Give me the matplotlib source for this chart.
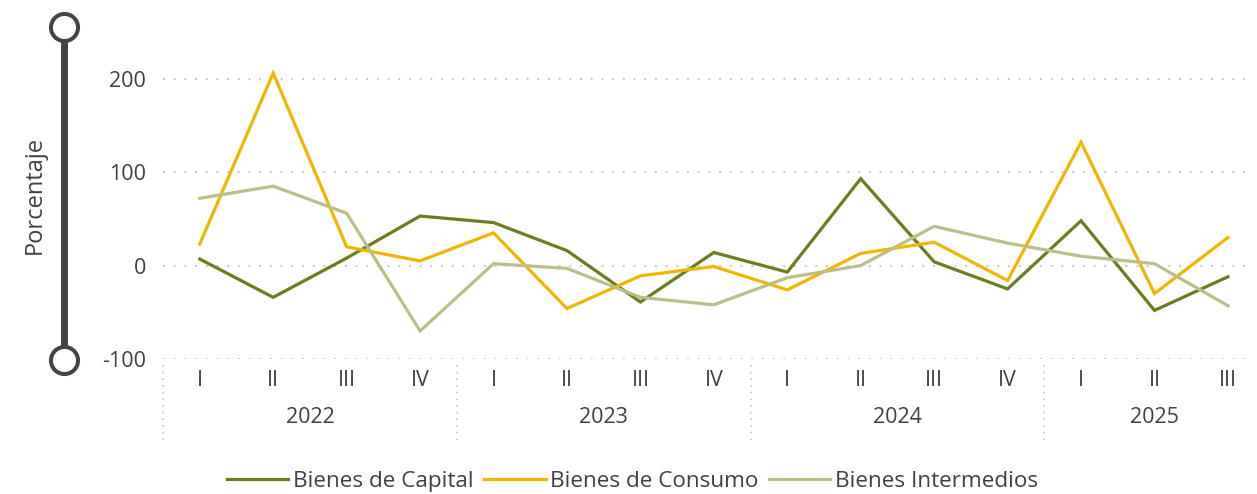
import matplotlib.pyplot as plt
from matplotlib.lines import Line2D

plt.rcParams['font.family'] = ['Open Sans', 'DejaVu Sans']

trimestres = ['I', 'II', 'III', 'IV', 'I', 'II', 'III', 'IV', 'I', 'II', 'III', 'IV', 'I', 'II', 'III']
anios = ['2022', '2023', '2024', '2025']
anio_pos = [1.5, 5.5, 9.5, 13.0]

capital = [7, -34, 8, 53, 46, 16, -39, 14, -7, 93, 4, -25, 48, -48, -12]
consumo = [23, 206, 20, 5, 35, -46, -11, -1, -26, 13, 25, -16, 132, -30, 30]
intermedios = [72, 85, 56, -70, 2, -3, -34, -42, -13, 0, 42, 24, 10, 2, -43]

series = [
    ('Bienes de Capital', capital, '#6A7E1F'),
    ('Bienes de Consumo', consumo, '#EFB700'),
    ('Bienes Intermedios', intermedios, '#BBBE86'),
]

txt = '#404040'
fs = 15.5
fig = plt.figure(figsize=(12.57, 4.94), dpi=100)
ax = fig.add_axes([0.1297, 0.2733, 0.8647, 0.6052])

x = list(range(len(trimestres)))
for nombre, vals, color in series:
    ax.plot(x, vals, color=color, lw=2.3, label=nombre, solid_joinstyle='miter')

ax.set_xlim(-0.5, 14.3)
ax.set_ylim(-100, 220)
ax.set_yticks([-100, 0, 100, 200])
ax.set_yticklabels(['-100', '0', '100', '200'], fontsize=fs, color=txt)
ax.tick_params(axis='y', length=0, pad=12)
for yv in [-100, 0, 100, 200]:
    ax.axhline(yv, color='#C8C8C8', lw=1.4, linestyle=(0, (1, 4.5)), zorder=0)
for s in ax.spines.values():
    s.set_visible(False)

ax.set_xticks(x)
ax.set_xticklabels(trimestres, fontsize=fs, color=txt)
ax.tick_params(axis='x', length=0, pad=8)

tr = ax.get_xaxis_transform()
for a, p in zip(anios, anio_pos):
    ax.text(p, -0.195, a, transform=tr, ha='center', va='center', fontsize=fs, color=txt)
for sep in [-0.5, 3.5, 7.5, 11.5]:
    ax.add_line(Line2D([sep, sep], [-0.02, -0.27], transform=tr, clip_on=False,
                       color='#C8C8C8', lw=1.2, linestyle=(0, (1, 3))))

# barra decorativa del eje
xs = 64 / 1257
fig.add_artist(Line2D([xs, xs], [0.9453, 0.2713], transform=fig.transFigure,
                      color='#444444', lw=5, solid_capstyle='butt', zorder=1))
fig.add_artist(Line2D([xs, xs], [0.9453, 0.2713], transform=fig.transFigure, lw=0,
                      marker='o', markersize=19.5, markerfacecolor='white',
                      markeredgecolor='#444444', markeredgewidth=2.9, zorder=2))
fig.text(35 / 1257, 1 - 195 / 494, 'Porcentaje', rotation=90, ha='center', va='center',
         fontsize=17, color=txt)

fig.legend(loc='center', bbox_to_anchor=(0.503, 0.026), ncol=3, frameon=False,
           fontsize=16.2, handlelength=2.75, handletextpad=0.2, columnspacing=0.45,
           labelcolor=txt)

fig.savefig('out.png', dpi=100)
